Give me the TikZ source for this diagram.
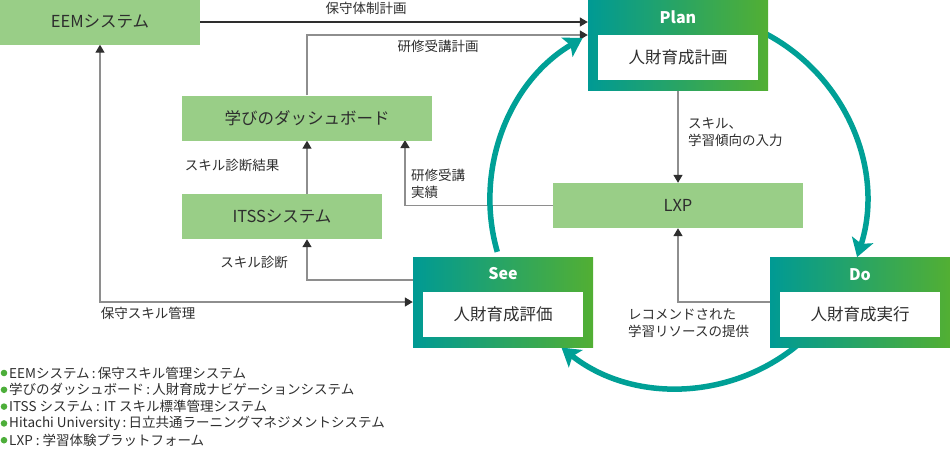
\documentclass[tikz,border=0pt]{standalone}
\usepackage{fontspec}
\setmainfont{Noto Sans CJK JP}
\usetikzlibrary{arrows.meta,backgrounds}

\definecolor{boxgreen}{HTML}{99CE87}
\definecolor{cycteal}{HTML}{00A096}
\definecolor{gradteal}{HTML}{009A94}
\definecolor{gradgreen}{HTML}{52AF33}
\definecolor{txtgray}{HTML}{2E2E2E}
\definecolor{linegray}{HTML}{8E8E8E}
\definecolor{bulgreen}{HTML}{4DAE3A}

\begin{document}
\begin{tikzpicture}[x=1pt,y=1pt,
  sysbox/.style={fill=boxgreen,minimum width=#1,minimum height=45,inner sep=0pt,text=txtgray,font=\fontsize{16.5}{19}\selectfont},
  phasebox/.style={left color=gradteal,right color=gradgreen,minimum width=180,minimum height=90,inner sep=0pt},
  phasetitle/.style={text=white,inner sep=0pt,font=\bfseries\fontsize{16}{19}\selectfont},
  phaseinner/.style={fill=white,minimum width=160,minimum height=45,inner sep=0pt,text=txtgray,font=\fontsize{16.5}{19}\selectfont},
  lbl/.style={inner sep=0pt,text=txtgray,align=left,font=\fontsize{13.5}{17.5}\selectfont},
  conn/.style={draw=linegray,line width=1.4pt},
  darkconn/.style={draw=txtgray,line width=1.2pt},
  tipend/.style={-{Triangle[length=8pt,width=9pt,color=txtgray]}},
  tipboth/.style={{Triangle[length=8pt,width=9pt,color=txtgray]}-{Triangle[length=8pt,width=9pt,color=txtgray]}},
  cycle/.style={draw=cycteal,line width=5.5pt,-{Stealth[length=18pt,width=22pt,inset=4pt]}}]
\useasboundingbox (0,0) rectangle (950,-451);

% systems
\node[sysbox=200] (eem) at (100,-22) {EEMシステム};
\node[sysbox=250] (dash) at (307,-118) {学びのダッシュボード};
\node[sysbox=200] (itss) at (282,-216.5) {ITSSシステム};
\node[sysbox=250] (lxp) at (678,-205.5) {LXP};

% PDCA boxes
\node[phasebox] (plan) at (678,-45) {};
\node[phasetitle] (plantitle) at (678,-17) {Plan};
\node[phaseinner] (planin) at (678,-57.5) {人財育成計画};
\node[phasebox] (do) at (860,-302) {};
\node[phasetitle] (dotitle) at (860,-275) {Do};
\node[phaseinner] (doin) at (860,-314.5) {人財育成実行};
\node[phasebox] (see) at (503,-302) {};
\node[phasetitle] (seetitle) at (503,-274) {See};
\node[phaseinner] (seein) at (503,-314.5) {人財育成評価};

\coordinate (trainplan) at (0,-35);
\coordinate (diag) at (0,-280);
\coordinate (rslt) at (405,-140);
\coordinate (cyc) at (678,-200);

\begin{scope}[on background layer]
\draw[darkconn,tipend] (eem.east) -- (eem.east -| plan.west);
\draw[conn,tipend] (dash.north) |- (trainplan -| plan.west);
\draw[conn,tipend] (itss.north -| dash.south) -- (dash.south);
\draw[conn,tipend] (lxp.west) -| (rslt);
\draw[conn,tipend] (see.west |- diag) -| (itss.south -| dash.south);
\draw[conn,tipboth] (eem.south) |- (see.west);
\draw[conn,tipend] (plan.south) -- (lxp.north);
\draw[conn,tipend] (do.west) -| (lxp.south);
% cycle
\draw[cycle] (cyc) ++(64:188) arc[start angle=64,end angle=-17.7,radius=188];
\draw[cycle] (cyc) ++(-50:188) arc[start angle=-50,end angle=-128.3,radius=188];
\draw[cycle] (cyc) ++(196:188) arc[start angle=196,end angle=120.5,radius=188];
\end{scope}

% connector labels
\node[lbl] (l1) at (366,-8) {保守体制計画};
\node[lbl] (l2) at (438,-46) {研修受講計画};
\node[lbl,anchor=west] (l3) at (688,-132) {スキル、\\学習傾向の入力};
\node[lbl] (l4) at (232,-165) {スキル診断結果};
\node[lbl,anchor=west] (l5) at (411,-184) {研修受講\\実績};
\node[lbl] (l6) at (254,-262) {スキル診断};
\node[lbl] (l7) at (148,-313) {保守スキル管理};
\node[lbl,anchor=west] (l8) at (628,-323) {レコメンドされた\\学習リソースの提供};

% legend
\foreach \txt [count=\i] in {{EEMシステム\,:\,保守スキル管理システム},
  {学びのダッシュボード\,:\,人財育成ナビゲーションシステム},
  {ITSS システム : IT スキル標準管理システム},
  {Hitachi University\,:\,日立共通ラーニングマネジメントシステム},
  {LXP : 学習体験プラットフォーム}} {
  \fill[bulgreen] (4,{-373-16.8*(\i-1)}) circle (3.3);
  \node[lbl,anchor=west] (leg\i) at (9,{-373-16.8*(\i-1)}) {\txt};
}
\end{tikzpicture}
\end{document}
